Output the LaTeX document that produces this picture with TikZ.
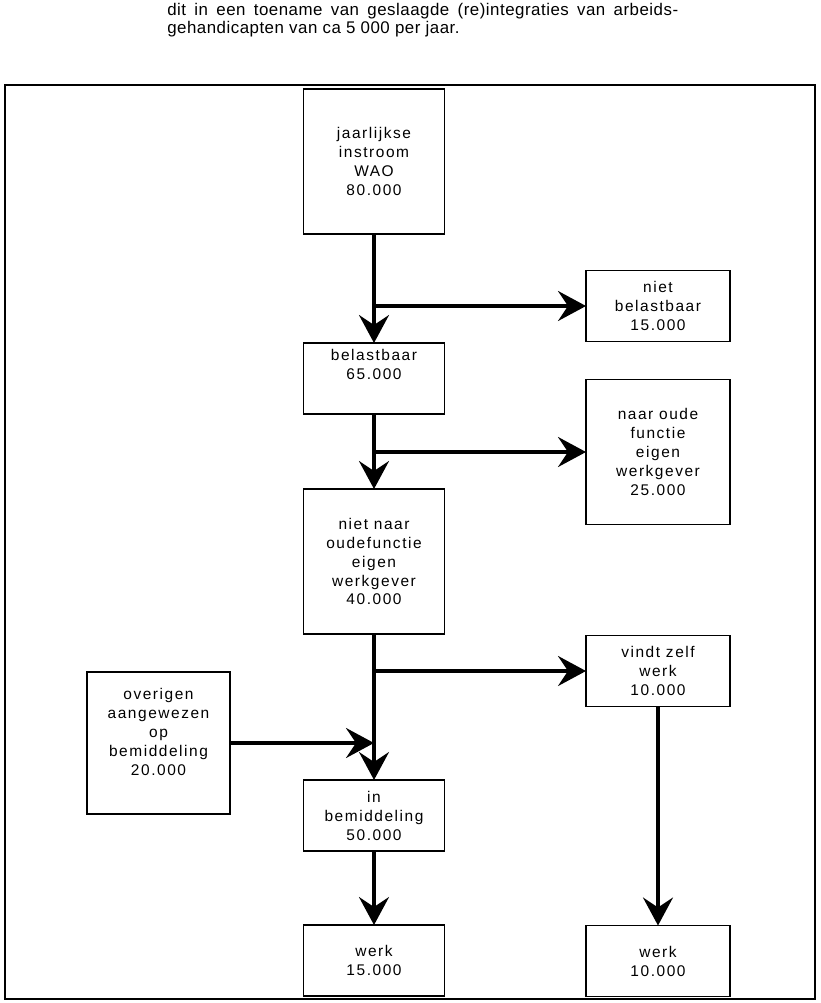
\documentclass[tikz,border=0pt]{standalone}
\usepackage{fontspec}
\setmainfont{Liberation Sans}
\usetikzlibrary{arrows.meta, positioning}
\tikzset{
    box/.style={draw=black, line width=1.4pt, fill=white, align=center, minimum width=3.525cm, inner sep=2pt, outer sep=0pt,
        font=\fontsize{11}{13.5}\selectfont\addfontfeatures{LetterSpace=10}},
    sidebox/.style={box, minimum width=3.6cm},
    tall/.style={minimum height=3.625cm},
    flat/.style={minimum height=1.775cm},
    arrow/.style={-{Stealth[length=0.7cm, width=0.75cm, inset=0.25cm]}, line width=2.5pt}
}

\begin{document}
\begin{tikzpicture}
    \useasboundingbox (0,0) rectangle (20.525,-25.075);
    \draw [line width=1.5pt] (0.125,-2.125) rectangle (20.375,-24.975);
    \node [anchor=north west, text width=12.775cm, align=justify, inner sep=0pt, font=\fontsize{12}{12.5}\selectfont\addfontfeatures{LetterSpace=3}] (intro) at (4.175,-0.08)
        {dit in een toename van geslaagde (re)integraties van arbeids-\linebreak gehandicapten van ca 5 000 per jaar.};

    % middle column
    \node [box, tall] (instroom) at (9.35,-4.0375) {jaarlijkse\\instroom\\WAO\\80.000};
    \node [box, flat, below=2.725cm of instroom, text depth=0.7cm] (belastbaar) {belastbaar\\65.000};
    \node [box, tall, below=1.875cm of belastbaar] (nietnaar) {niet naar\\oudefunctie\\eigen\\werkgever\\40.000};
    \node [box, flat, below=3.65cm of nietnaar] (inbem) {in\\bemiddeling\\50.000};
    \node [box, flat, below=1.85cm of inbem] (werkA) {werk\\15.000};

    \coordinate [below=1.8cm of instroom] (split1);
    \coordinate [below=0.95cm of belastbaar] (split2);
    \coordinate [below=0.925cm of nietnaar] (split3);
    \coordinate [below=2.725cm of nietnaar] (join);

    % side boxes
    \node [sidebox, flat, right=5.3cm of split1] (nietbel) {niet\\belastbaar\\15.000};
    \node [sidebox, tall, right=5.3cm of split2] (naaroude) {naar oude\\functie\\eigen\\werkgever\\25.000};
    \node [sidebox, flat, right=5.3cm of split3] (vindt) {vindt zelf\\werk\\10.000};
    \node [sidebox, flat, below=5.475cm of vindt] (werkB) {werk\\10.000};
    \node [box, minimum width=3.575cm, minimum height=3.55cm, text depth=0.55cm, left=3.6cm of join] (overigen) {overigen\\aangewezen\\op\\bemiddeling\\20.000};

    \draw [arrow] (instroom) -- (belastbaar);
    \draw [arrow] (split1) -- (nietbel);
    \draw [arrow] (belastbaar) -- (nietnaar);
    \draw [arrow] (split2) -- (naaroude);
    \draw [arrow] (nietnaar) -- (inbem);
    \draw [arrow] (split3) -- (vindt);
    \draw [arrow] (overigen) -- (join);
    \draw [arrow] (inbem) -- (werkA);
    \draw [arrow] (vindt) -- (werkB);
\end{tikzpicture}
\end{document}
